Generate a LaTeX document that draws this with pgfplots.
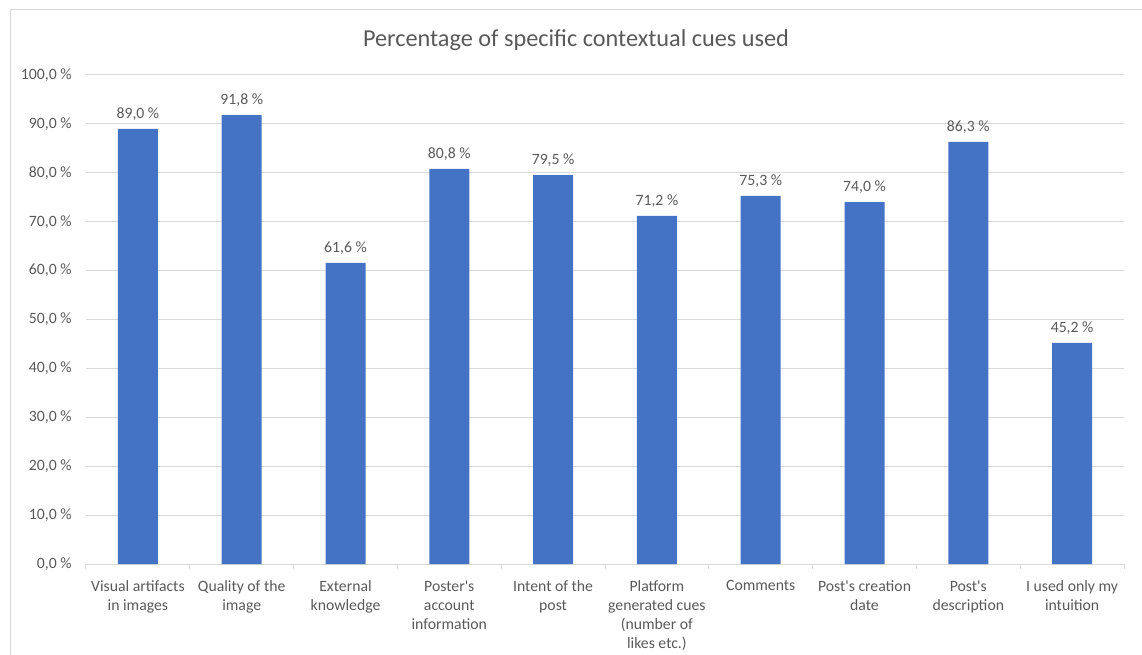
\documentclass[border=0pt]{standalone}
\usepackage{pgfplots}
\pgfplotsset{compat=1.18}
\usepackage{fontspec}
\setmainfont{Carlito}
\definecolor{barblue}{HTML}{4472C4}
\definecolor{txtgray}{HTML}{595959}
\definecolor{gridgray}{HTML}{D9D9D9}
\newcommand{\ap}{\textquotesingle}
\begin{document}
\begin{tikzpicture}[x=1pt,y=1pt]
\useasboundingbox (0,0) rectangle (856.5,490.5);
\draw[gridgray, line width=0.75pt] (7.5,-10) rectangle (870,483);
\node[text=txtgray, font=\fontsize{18.2}{22}\selectfont] at (432,460.5) {Percentage of specific contextual cues used};
\begin{axis}[
  at={(64.5pt,67.5pt)}, anchor=south west,
  scale only axis, width=778.5pt, height=366.75pt,
  xmin=-0.5, xmax=9.5, ymin=0, ymax=100,
  ytick={0,10,...,100},
  xtick={0,...,9},
  xticklabels={{Visual artifacts\\in images},{Quality of the\\image},{External\\knowledge},{Poster\ap s\\account\\information},{Intent of the\\post},{Platform\\generated cues\\(number of\\likes etc.)},{Comments},{Post\ap s creation\\date},{Post\ap s\\description},{I used only my\\intuition}},
  xticklabel style={align=center, text=txtgray, font=\fontsize{11.8}{14.3}\selectfont, anchor=north, yshift=-4.5pt},
  minor xtick={-0.5,0.5,...,9.5},
  major x tick style={draw=none},
  minor x tick style={draw=gridgray, line width=0.75pt},
  tick align=outside,
  minor tick length=3.75pt,
  ytick style={draw=none},
  yticklabel={\pgfmathprintnumber[fixed,fixed zerofill,precision=1,use comma,assume math mode=true]{\tick}~\%},
  yticklabel style={text=txtgray, font=\fontsize{11.8}{14}\selectfont, xshift=-3pt},
  ymajorgrids, grid style={gridgray, line width=0.75pt},
  axis x line*=bottom,
  axis y line*=left,
  x axis line style={draw=gridgray, line width=0.75pt, -},
  y axis line style={draw=none},
  ybar, bar width=30pt,
  nodes near coords={\pgfmathprintnumber[fixed,fixed zerofill,precision=1,use comma,assume math mode=true]{\pgfplotspointmeta}~\%},
  nodes near coords style={text=txtgray, font=\fontsize{11.8}{14}\selectfont, yshift=3pt},
]
\addplot[fill=barblue, draw=none] coordinates {(0,89.0) (1,91.8) (2,61.6) (3,80.8) (4,79.5) (5,71.2) (6,75.3) (7,74.0) (8,86.3) (9,45.2)};
\end{axis}
\end{tikzpicture}
\end{document}
